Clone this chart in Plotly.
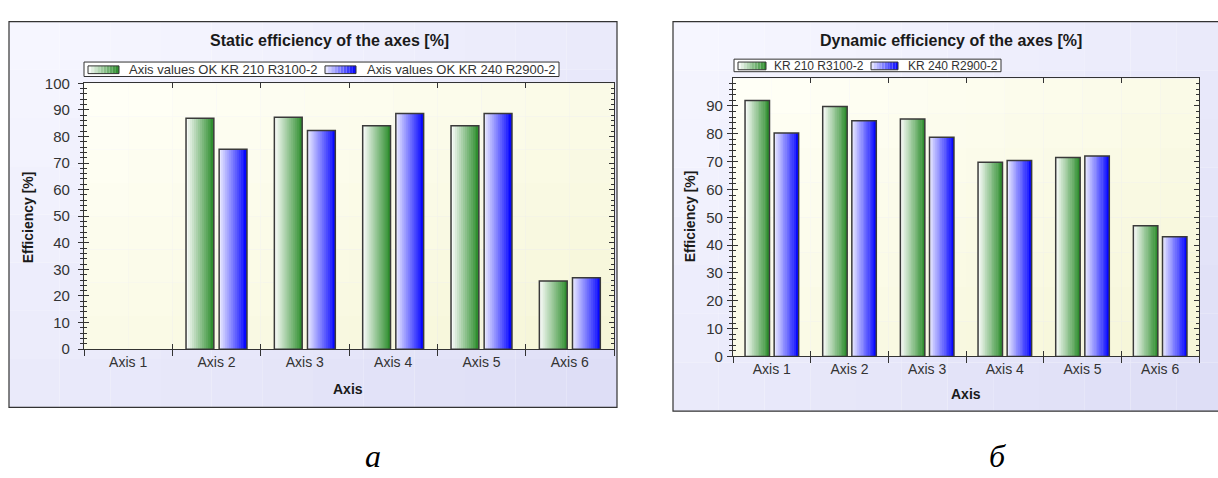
import plotly.graph_objects as go

# ---------------- data ----------------
categories = ["Axis 1", "Axis 2", "Axis 3", "Axis 4", "Axis 5", "Axis 6"]
static_kr210 = [None, 86.8, 87.2, 84.0, 84.0, 25.6]
static_kr240 = [None, 75.2, 82.2, 88.6, 88.6, 26.9]
dynamic_kr210 = [92.0, 89.8, 85.3, 69.8, 71.5, 47.0]
dynamic_kr240 = [80.3, 84.7, 78.8, 70.4, 72.0, 43.0]
static_names = ["Axis values OK KR 210 R3100-2", "Axis values OK KR 240 R2900-2"]
dynamic_names = ["KR 210 R3100-2", "KR 240 R2900-2"]
titles = ["Static efficiency of the axes [%]", "Dynamic efficiency of the axes [%]"]
y_title = "Efficiency [%]"
x_title = "Axis"
panel_letters = ["а", "б"]

# ---------------- style ----------------
W, H = 1218, 478
FONT = "Liberation Sans"
DARK = "#333333"
GREEN = ((255, 255, 255), (40, 138, 40))
BLUE = ((238, 238, 255), (0, 0, 255))
N_SLICES = 14
BAR_W = 0.315
OFFSETS = (-0.345, 0.03)


def X(px):
    return px / W


def Y(py):
    return 1 - py / H


def mix(c0, c1, t):
    return "rgb(%d,%d,%d)" % tuple(round(a + (b - a) * t) for a, b in zip(c0, c1))


fig = go.Figure()
shapes = []
annotations = []


def gradient_bars(vals, grad, off, xa, ya, xo, yo):
    step = BAR_W / N_SLICES
    for k in range(N_SLICES):
        t = (k + 0.5) / N_SLICES
        w = step * (1.25 if k < N_SLICES - 1 else 1.0)
        fig.add_trace(go.Bar(
            x=categories, y=vals, offset=off + k * step, width=w,
            marker=dict(color=mix(grad[0], grad[1], t), line=dict(width=0)),
            xaxis=xa, yaxis=ya, showlegend=False, hoverinfo="skip"))
    fig.add_trace(go.Bar(
        x=categories, y=vals, offset=off, width=BAR_W,
        marker=dict(color="rgba(0,0,0,0)", line=dict(color="#3a3a3a", width=1.5)),
        xaxis=xo, yaxis=yo, showlegend=False, hoverinfo="skip"))


gradient_bars(static_kr210, GREEN, OFFSETS[0], "x", "y", "x3", "y3")
gradient_bars(static_kr240, BLUE, OFFSETS[1], "x", "y", "x3", "y3")
gradient_bars(dynamic_kr210, GREEN, OFFSETS[0], "x2", "y2", "x4", "y4")
gradient_bars(dynamic_kr240, BLUE, OFFSETS[1], "x2", "y2", "x4", "y4")


# chart box backgrounds (diagonal gradients)
def box_gradient(x0, y0, x1, y1, c0, c1, nx=12, ny=8, xref="paper", yref="paper", conv=True):
    for i in range(nx):
        for j in range(ny):
            t = (i / (nx - 1) + j / (ny - 1)) / 2
            ax0 = x0 + (x1 - x0) * i / nx
            ax1 = x0 + (x1 - x0) * (i + 1) / nx
            ay0 = y0 + (y1 - y0) * j / ny
            ay1 = y0 + (y1 - y0) * (j + 1) / ny
            if conv:
                sx0, sx1, sy0, sy1 = X(ax0), X(ax1), Y(ay0), Y(ay1)
            else:
                sx0, sx1, sy0, sy1 = ax0, ax1, 1 - ay0, 1 - ay1
            shapes.append(dict(type="rect", xref=xref, yref=yref, layer="below",
                               x0=sx0, x1=sx1, y0=sy0, y1=sy1,
                               fillcolor=mix(c0, c1, t), line=dict(width=0)))


LAV = ((246, 246, 255), (222, 222, 246))
YEL = ((255, 255, 246), (246, 246, 216))
box_gradient(9, 13, 617, 413, *LAV)
box_gradient(673, 13, 1222, 417, *LAV)
box_gradient(0, 0, 1, 1, *YEL, xref="x domain", yref="y domain", conv=False)
box_gradient(0, 0, 1, 1, *YEL, xref="x2 domain", yref="y2 domain", conv=False)

for (x0, y0, x1, y1) in [(9, 13, 617, 413), (673, 13, 1224, 417)]:
    shapes.append(dict(type="rect", xref="paper", yref="paper", layer="above",
                       x0=X(x0), x1=X(x1), y0=Y(y0), y1=Y(y1),
                       line=dict(color=DARK, width=1.2), fillcolor="rgba(0,0,0,0)"))


# custom legends
def legend(box, items, size):
    bx0, by0, bx1, by1 = box
    shapes.append(dict(type="rect", xref="paper", yref="paper", layer="above",
                       x0=X(bx0), x1=X(bx1), y0=Y(by0), y1=Y(by1),
                       fillcolor="white", line=dict(color=DARK, width=1)))
    for (sx0, sx1, sy0, sy1, tx, name, grad) in items:
        n = 10
        for k in range(n):
            t = (k + 0.5) / n
            shapes.append(dict(type="rect", xref="paper", yref="paper", layer="above",
                               x0=X(sx0 + (sx1 - sx0) * k / n), x1=X(sx0 + (sx1 - sx0) * (k + 1) / n),
                               y0=Y(sy0), y1=Y(sy1), fillcolor=mix(grad[0], grad[1], t),
                               line=dict(width=0)))
        shapes.append(dict(type="rect", xref="paper", yref="paper", layer="above",
                           x0=X(sx0), x1=X(sx1), y0=Y(sy0), y1=Y(sy1),
                           fillcolor="rgba(0,0,0,0)", line=dict(color=DARK, width=1)))
        annotations.append(dict(text=name, x=X(tx), y=Y((sy0 + sy1) / 2), xref="paper", yref="paper",
                                xanchor="left", yanchor="middle", showarrow=False,
                                font=dict(family=FONT, size=size, color=DARK)))


legend((84, 55, 559, 70), [(88, 119, 59, 67, 127, static_names[0], GREEN),
                          (325, 356, 59, 67, 365, static_names[1], BLUE)], 13)
legend((734, 52, 1001, 65), [(738, 766, 55, 63, 772, dynamic_names[0], GREEN),
                            (871, 898, 55, 63, 906, dynamic_names[1], BLUE)], 12)

# titles and axis titles
for txt, cx, cy in [(titles[0], 329, 33), (titles[1], 951, 33)]:
    annotations.append(dict(text="<b>%s</b>" % txt, x=X(cx), y=Y(cy), xref="paper", yref="paper",
                            xanchor="center", yanchor="middle", showarrow=False,
                            font=dict(family=FONT, size=16, color="#1a1a1a")))
for cx, cy in [(28, 216), (690, 215)]:
    annotations.append(dict(text="<b>%s</b>" % y_title, x=X(cx), y=Y(cy), xref="paper", yref="paper",
                            xanchor="center", yanchor="middle", textangle=-90, showarrow=False,
                            font=dict(family=FONT, size=14, color="#1a1a1a")))
for cx, cy in [(348, 394), (966, 399)]:
    annotations.append(dict(text="<b>%s</b>" % x_title, x=X(cx), y=Y(cy), xref="paper", yref="paper",
                            xanchor="center", yanchor="middle", showarrow=False,
                            font=dict(family=FONT, size=14, color="#1a1a1a")))
for txt, cx, cy in [(panel_letters[0], 373, 464), (panel_letters[1], 997, 463)]:
    annotations.append(dict(text="<i>%s</i>" % txt, x=X(cx), y=Y(cy), xref="paper", yref="paper",
                            xanchor="center", yanchor="middle", showarrow=False,
                            font=dict(family="Liberation Serif", size=32, color="black")))

# axes
xtickfont = dict(family=FONT, size=14, color=DARK)
ytickfont = dict(family=FONT, size=15, color=DARK)


def xaxis_main(dom, anchor):
    return dict(domain=dom, anchor=anchor, type="category", categoryorder="array",
                categoryarray=categories, range=[-0.5, 5.5], ticks="outside", tickson="boundaries",
                ticklen=6, tickcolor=DARK, showline=True, linecolor=DARK, linewidth=1,
                showgrid=False, zeroline=False, tickfont=xtickfont, fixedrange=True)


def xaxis_over(dom, over, anchor):
    return dict(domain=dom, overlaying=over, anchor=anchor, type="category", categoryorder="array",
                categoryarray=categories, range=[-0.5, 5.5], ticks="inside", tickson="boundaries",
                ticklen=5, tickcolor=DARK, mirror="ticks", showline=True, linecolor=DARK,
                linewidth=1, showticklabels=False, showgrid=False, zeroline=False, fixedrange=True)


def yaxis_main(dom, anchor, top, standoff):
    return dict(domain=dom, anchor=anchor, range=[0, top], tickmode="array",
                tickvals=[v for v in range(0, 101, 10)],
                ticks="outside", ticklen=5, tickcolor=DARK,
                minor=dict(dtick=2, ticks="outside", ticklen=3, tickcolor=DARK),
                showline=True, linecolor=DARK, linewidth=1.2, showgrid=False, zeroline=False,
                tickfont=ytickfont, ticklabelstandoff=standoff, fixedrange=True)


def yaxis_over(dom, over, anchor, top):
    return dict(domain=dom, overlaying=over, anchor=anchor, range=[0, top], dtick=10,
                ticks="inside", ticklen=5, tickcolor=DARK,
                minor=dict(dtick=2, ticks="inside", ticklen=3, tickcolor=DARK),
                mirror="ticks", showline=True, linecolor=DARK, linewidth=1.2,
                showticklabels=False, showgrid=False, zeroline=False, fixedrange=True)


LX = [X(84), X(614)]
LY = [Y(352.7), Y(77)]
RX = [X(733), X(1199)]
RY = [Y(360.3), Y(72)]

fig.update_layout(
    width=W, height=H, margin=dict(l=0, r=0, t=0, b=0),
    paper_bgcolor="white", plot_bgcolor="rgba(0,0,0,0)",
    barmode="overlay", showlegend=False,
    xaxis=xaxis_main(LX, "y"), yaxis=yaxis_main(LY, "x", 100, 5),
    xaxis3=xaxis_over(LX, "x", "y"), yaxis3=yaxis_over(LY, "y", "x", 100),
    xaxis2=xaxis_main(RX, "y2"), yaxis2=yaxis_main(RY, "x2", 99.9, 1),
    xaxis4=xaxis_over(RX, "x2", "y2"), yaxis4=yaxis_over(RY, "y2", "x2", 99.9),
    shapes=shapes, annotations=annotations,
)

fig.write_html(
    "out.html",
    config={"displayModeBar": False},
    post_script="document.body.style.margin='0';document.body.style.overflow='hidden';",
)
